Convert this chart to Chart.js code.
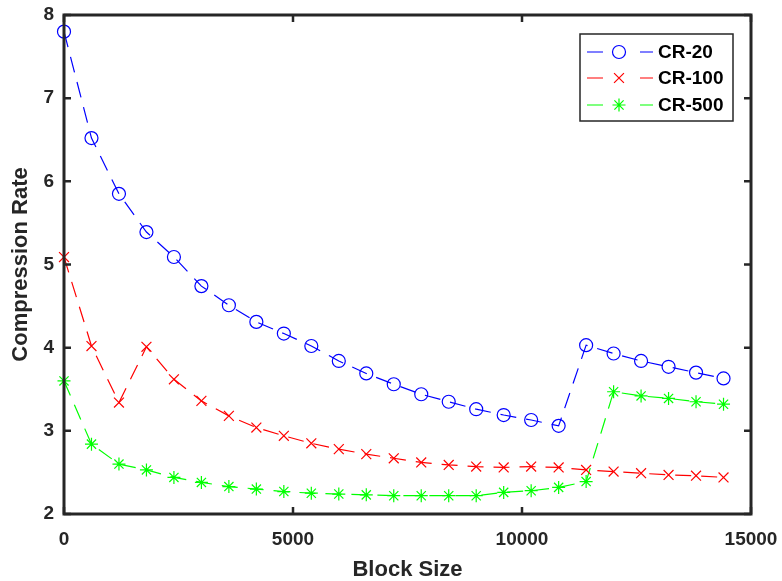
<!DOCTYPE html>
<html>
<head>
<meta charset="utf-8">
<script src="https://cdn.jsdelivr.net/npm/chart.js@4.4.1/dist/chart.umd.min.js"></script>
<style>
html, body { margin: 0; padding: 0; background: #fff; }
#wrap { width: 782px; height: 581px; }
</style>
</head>
<body>
<div id="wrap"><canvas id="rateChart" width="782" height="581"></canvas></div>
<script>
// block sizes on the x axis
const blockSizes = [0, 600, 1200, 1800, 2400, 3000, 3600, 4200, 4800, 5400, 6000, 6600, 7200,
                    7800, 8400, 9000, 9600, 10200, 10800, 11400, 12000, 12600, 13200, 13800, 14400];
const cr20  = [7.80, 6.52, 5.85, 5.39, 5.09, 4.74, 4.51, 4.31, 4.17, 4.02, 3.84, 3.69, 3.56,
               3.44, 3.35, 3.26, 3.19, 3.13, 3.06, 4.03, 3.93, 3.84, 3.77, 3.70, 3.63];
const cr100 = [5.09, 4.02, 3.34, 4.01, 3.62, 3.36, 3.18, 3.04, 2.94, 2.85, 2.78, 2.72, 2.67,
               2.62, 2.59, 2.57, 2.56, 2.57, 2.56, 2.53, 2.51, 2.49, 2.47, 2.46, 2.44];
const cr500 = [3.60, 2.84, 2.60, 2.53, 2.44, 2.38, 2.33, 2.30, 2.27, 2.25, 2.24, 2.23, 2.22,
               2.22, 2.22, 2.22, 2.26, 2.28, 2.32, 2.39, 3.47, 3.42, 3.39, 3.35, 3.32];
const seriesNames = ['CR-20', 'CR-100', 'CR-500'];
const xTickValues = [0, 5000, 10000, 15000];
const yTickValues = [2, 3, 4, 5, 6, 7, 8];

const axisColor = '#262626';

function makeSeries(label, values, color, style, radius) {
    return {
        label: label,
        data: blockSizes.map((b, i) => ({ x: b, y: values[i] })),
        borderColor: color,
        borderWidth: 1.2,
        borderDash: [16, 10],
        pointStyle: style,
        pointRadius: radius,
        pointBorderColor: color,
        pointBackgroundColor: 'rgba(0,0,0,0)',
        pointBorderWidth: 1.2,
        tension: 0,
        clip: false
    };
}

// box round the plot, inward ticks, and a matlab style legend
const axisFrame = {
    id: 'axisFrame',
    afterDatasetsDraw(chart) {
        const { ctx, chartArea: a, scales: { x, y } } = chart;
        ctx.save();
        ctx.strokeStyle = axisColor;
        ctx.lineWidth = 2.5;
        ctx.beginPath();
        xTickValues.forEach(v => {
            const px = x.getPixelForValue(v);
            ctx.moveTo(px, a.bottom); ctx.lineTo(px, a.bottom - 7);
            ctx.moveTo(px, a.top); ctx.lineTo(px, a.top + 7);
        });
        yTickValues.forEach(v => {
            const py = y.getPixelForValue(v);
            ctx.moveTo(a.left, py); ctx.lineTo(a.left + 7, py);
            ctx.moveTo(a.right, py); ctx.lineTo(a.right - 7, py);
        });
        ctx.stroke();
        ctx.lineWidth = 3;
        ctx.strokeRect(a.left, a.top, a.right - a.left, a.bottom - a.top);
        ctx.restore();
    },
    afterDraw(chart) {
        const { ctx, chartArea: a } = chart;
        const w = 153, h = 87;
        const left = a.right - 18 - w, top = a.top + 19;
        ctx.save();
        ctx.fillStyle = '#fff';
        ctx.fillRect(left, top, w, h);
        ctx.strokeStyle = axisColor;
        ctx.lineWidth = 1.5;
        ctx.strokeRect(left, top, w, h);
        const rows = [18, 44, 71];
        chart.data.datasets.forEach((ds, i) => {
            const cy = top + rows[i];
            ctx.strokeStyle = ds.borderColor;
            ctx.lineWidth = 1.2;
            ctx.beginPath();
            ctx.moveTo(left + 7, cy); ctx.lineTo(left + 23, cy);
            ctx.moveTo(left + 60, cy); ctx.lineTo(left + 73, cy);
            ctx.stroke();
            ctx.fillStyle = 'rgba(0,0,0,0)';
            Chart.helpers.drawPoint(ctx, {
                pointStyle: ds.pointStyle, radius: ds.pointRadius, rotation: 0, borderWidth: 1.2
            }, left + 39, cy);
            ctx.fillStyle = '#000';
            ctx.font = 'bold 19px "Liberation Sans", Arial, sans-serif';
            ctx.textBaseline = 'middle';
            ctx.textAlign = 'left';
            ctx.fillText(ds.label, left + 78, cy + 1);
        });
        ctx.restore();
    }
};

const tickFont = { family: '"Liberation Sans", Arial, sans-serif', size: 19, weight: 'bold' };
const titleFont = { family: '"Liberation Sans", Arial, sans-serif', size: 22, weight: 'bold', lineHeight: 1 };

new Chart(document.getElementById('rateChart').getContext('2d'), {
    type: 'line',
    data: {
        datasets: [
            makeSeries(seriesNames[0], cr20, '#0000ff', 'circle', 6.5),
            makeSeries(seriesNames[1], cr100, '#ff0000', 'crossRot', 7),
            makeSeries(seriesNames[2], cr500, '#00ff00', 'star', 6.5)
        ]
    },
    options: {
        responsive: false,
        animation: false,
        layout: { padding: { left: 0, top: 15, right: 31, bottom: 0 } },
        plugins: {
            legend: { display: false },
            tooltip: { enabled: false }
        },
        scales: {
            x: {
                type: 'linear',
                min: 0,
                max: 15000,
                afterBuildTicks: s => { s.ticks = xTickValues.map(v => ({ value: v })); },
                afterFit: s => { s.height = 67; s.paddingLeft = 0; s.paddingRight = 0; },
                grid: { display: false, drawTicks: false },
                border: { display: false },
                ticks: { color: axisColor, font: tickFont, padding: 14, maxRotation: 0,
                         callback: v => String(v) },
                title: { display: true, text: 'Block Size', color: axisColor, font: titleFont,
                         padding: { top: 0, bottom: 0 } }
            },
            y: {
                type: 'linear',
                min: 2,
                max: 8,
                afterBuildTicks: s => { s.ticks = yTickValues.map(v => ({ value: v })); },
                afterFit: s => { s.width = 64; s.paddingTop = 0; s.paddingBottom = 0; },
                grid: { display: false, drawTicks: false },
                border: { display: false },
                ticks: { color: axisColor, font: tickFont, padding: 10,
                         callback: v => String(v) },
                title: { display: true, text: 'Compression Rate', color: axisColor, font: titleFont,
                         padding: { top: 10, bottom: 0 } }
            }
        }
    },
    plugins: [axisFrame]
});
</script>
</body>
</html>
